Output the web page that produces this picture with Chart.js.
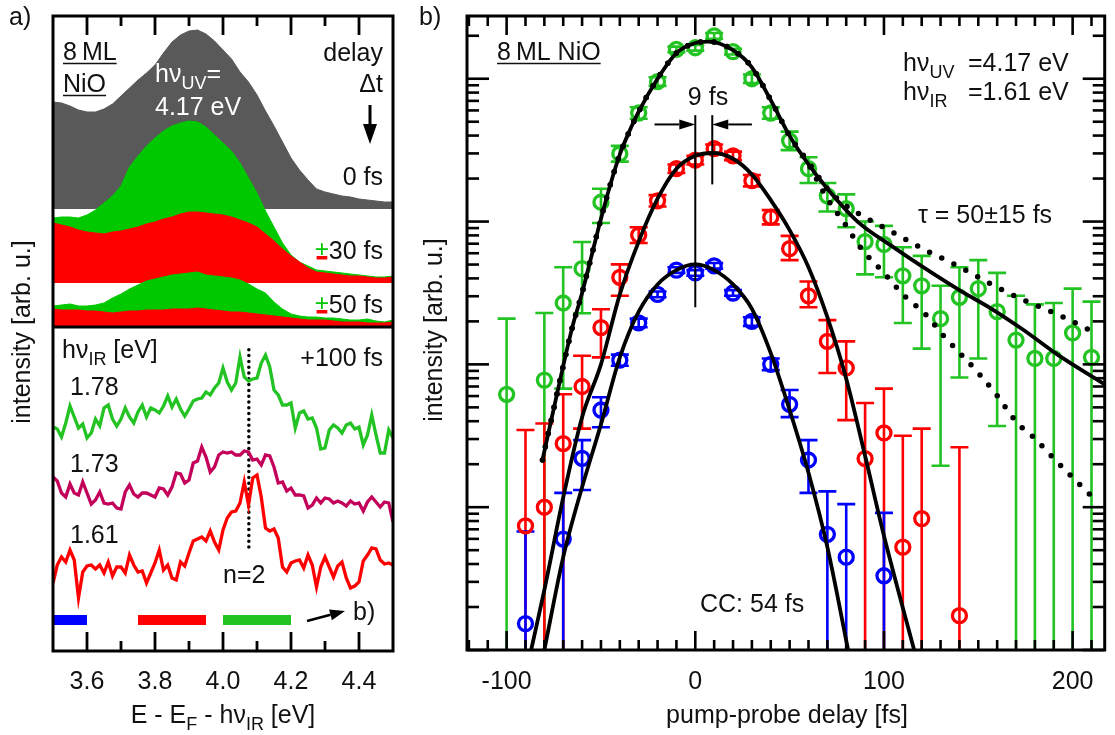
<!DOCTYPE html>
<html>
<head>
<meta charset="utf-8">
<script src="https://cdn.jsdelivr.net/npm/chart.js@4.4.1/dist/chart.umd.min.js"></script>
<style>
  html, body { margin: 0; padding: 0; background: #fff; }
  #wrap { position: relative; width: 1115px; height: 735px; }
  canvas { position: absolute; left: 0; top: 0; }
</style>
</head>
<body>
<div id="wrap">
  <canvas id="chartA" width="1115" height="735"></canvas>
  <canvas id="chartB" width="1115" height="735"></canvas>
</div>
<script>
const FONT = '"Liberation Sans", Arial, Helvetica, sans-serif';
Chart.defaults.font.family = FONT;
Chart.defaults.font.size = 25;
Chart.defaults.color = '#111';

const GRAY = '#595959', GREEN_FILL = '#00c800', GREEN = '#22c322', RED = '#ff0000', BLUE = '#0000ff', MAGENTA = '#c3005a';

// ---------- panel a: spectra ----------
const energies = [3.5,3.525,3.55,3.575,3.6,3.625,3.65,3.675,3.7,3.725,3.75,3.775,3.8,3.825,3.85,3.875,3.9,3.925,3.95,3.975,
  4,4.025,4.05,4.075,4.1,4.125,4.15,4.175,4.2,4.225,4.25,4.275,4.3,4.325,4.35,4.375,4.4,4.425,4.45,4.475,4.5];

const spec0fs = [107,106,103,99,97,97,100,105,113,121,129,136,144,156,167,174,178,179,175,168,
  159,150,137,127,114,98,83,67,51,39,29,20,17,15,13,12,10,9,8,7,7];
const spec30plus = [65,66,66,65,68,73,80,87,97,116,127,137,145,152,157,160,162,161,156,148,
  140,132,120,105,90,72,56,40,28,21,17,13,12,11,10,9,8,7,6,6,7];
const spec30minus = [60,58,56,53,51,50,49,51,52,54,56,59,61,64,66,69,71,71,70,69,
  68,66,63,60,56,49,42,34,27,21,15,11,10,9,8,7,7,6,5,5,6];
const spec50plus = [21,22,23,21,21,22,24,29,33,38,42,46,48,50,52,53,54,55,52,51,
  50,49,47,43,38,34,25,18,13,11,10,10,9,9,8,7,7,8,6,5,7];
const spec50minus = [18,17,17,17,16,16,15,14,15,16,16,17,17,17,18,18,18,19,18,17,
  16,15,15,14,13,12,11,10,9,8,7,7,7,6,5,5,5,4,4,4,5];

const energiesFine = [3.5,3.5125,3.525,3.5375,3.55,3.5625,3.575,3.5875,3.6,3.6125,3.625,3.6375,3.65,3.6625,3.675,3.6875,
  3.7,3.7125,3.725,3.7375,3.75,3.7625,3.775,3.7875,3.8,3.8125,3.825,3.8375,3.85,3.8625,3.875,3.8875,
  3.9,3.9125,3.925,3.9375,3.95,3.9625,3.975,3.9875,4,4.0125,4.025,4.0375,4.05,4.0625,4.075,4.0875,
  4.1,4.1125,4.125,4.1375,4.15,4.1625,4.175,4.1875,4.2,4.2125,4.225,4.2375,4.25,4.2625,4.275,4.2875,
  4.3,4.3125,4.325,4.3375,4.35,4.3625,4.375,4.3875,4.4,4.4125,4.425,4.4375,4.45,4.4625,4.475,4.4875,4.5];

const ir178 = [43,41,33,47,64,53,42,46,32,37,51,44,62,65,51,44,51,62,53,47,58,65,53,62,60,57,64,74,63,71,
  61,54,61,69,71,72,78,75,82,87,102,88,80,87,113,93,89,91,92,107,115,103,80,75,65,65,67,42,57,59,
  51,52,42,21,22,40,45,42,37,45,47,41,43,25,35,55,35,17,17,40,32];
const ir173 = [63,59,47,43,56,47,45,58,47,36,40,48,37,36,37,32,31,48,55,46,43,47,47,45,43,52,51,45,53,67,
  66,57,60,77,79,93,83,68,73,85,88,87,88,85,85,89,88,80,81,75,85,84,73,57,58,49,52,45,45,44,
  32,35,42,37,42,41,37,39,37,34,39,36,37,29,38,43,38,33,38,37,18];
const ir161 = [37,55,63,58,70,60,22,48,54,55,51,55,47,58,44,53,53,47,65,55,48,49,37,47,57,70,50,55,42,40,
  58,54,67,79,81,83,79,89,78,70,90,102,108,109,117,138,115,142,145,123,92,89,91,82,53,48,57,59,60,52,
  65,55,33,53,63,53,43,54,58,42,32,34,38,59,65,72,71,60,56,57,55];

// stacking offsets (arb. u.)
const base0fs = 442, base30 = 368, base50 = 324;
const off178 = 181, off173 = 111, off161 = 31;
const n2Energy = 4.076, n2Range = [104, 304];
const rangeLevel = 31;
const blueRange = [3.5, 3.6], redRange = [3.75, 3.95], greenRange = [4.0, 4.2];

const energyTicks = [3.6, 3.8, 4.0, 4.2, 4.4];
const energyMinor = [3.7, 3.9, 4.1, 4.3];

// ---------- panel b: delay scans ----------
const greenDelay = [-100,-80,-70,-60,-50,-40,-30,-20,-10,0,10,20,30,40,50,60,70,80,90,100,110,120,130,140,150,160,170,180,190,200,210];
const greenInt = [61.7,77.6,269,468,1365,2985,5754,9550,16032,16482,19953,15488,10000,5754,3673,2344,1514,1230,724,692,417,355,209,295,339,234,148,110,110,166,112];
const greenHi = [209,229,479,719,1698,3388,6310,10233,16788,17258,20893,16218,10715,6310,4266,2818,1862,1549,1000,933,661,575,355,479,537,437,302,263,269,339,275];
const greenLo = [0.1,0.1,67.6,228,977,2630,5248,8913,15311,15740,19055,14791,9333,5248,3162,1862,1175,912,427,407,195,129,19.5,81,110,37,0.1,0.1,0.1,0.1,0.1];

const redDelay = [-90,-80,-70,-60,-50,-40,-30,-20,-10,0,10,20,30,40,50,60,70,80,90,100,110,120,140];
const redInt = [7.41,10,27.9,70,181,407,804,1396,2344,2692,3236,2884,1932,1072,646,302,145,94.4,21.9,33.1,5.25,8.32,1.74];
const redHi = [34.7,38.5,61.7,115,243,501,912,1531,2512,2884,3467,3090,2118,1202,794,380,204,145,53.7,67.6,31.6,35.5,26.3];
const redLo = [0.1,0.1,0.1,35.5,112,302,708,1274,2188,2512,3020,2692,1762,955,537,251,87,40.7,0.1,0.1,0.1,0.1,0.1];

const blueDelay = [-90,-70,-60,-50,-40,-30,-20,-10,0,10,20,30,40,50,60,70,80,100];
const blueInt = [1.53,5.98,22.0,47.9,107,195,309,457,437,490,316,200,100,52.5,21.4,6.46,4.47,3.31];
const blueHi = [6.76,12.6,29.5,58.9,117,209,324,479,457,513,331,214,110,66.1,29.5,12.9,10.5,9.12];
const blueLo = [0.1,0.1,13.2,36.3,97.7,182,295,437,417,468,302,186,91.2,42.7,12.6,0.1,0.1,0.1];

const greenFitT = [-81,-76,-70,-65,-60,-55,-50,-45,-40,-35,-30,-20,-10,0,7,20,30,40,50,60,70,86,104,122,140,157,174,192,217];
const greenFitV = [21.4,42.7,97.7,186,316,575,1047,1820,2951,4266,5888,10000,15136,17783,18197,15849,12023,7079,3981,2512,1698,1000,676,468,331,245,174,117,72.4];
const upperDotT = [-81,-76,-70,-65,-60,-55,-50,-45,-40,-35,-30,-20,-10,0,7,20,30,40,50,60,70,78,86,104,122,139,157,174,192,209];
const upperDotV = [21.4,42.7,97.7,186,316,575,1047,1820,2951,4266,5888,10000,15136,17783,18197,15849,12023,7079,3981,2600,1698,1349,1148,851,631,490,363,282,224,174];
const lowerDotT = [-81,-76,-70,-65,-60,-55,-50,-45,-40,-35,-30,-20,-10,0,7,20,30,40,50,60,70,79,88,100,110,122,131,141,150,160,170,180,190,199,209];
const lowerDotV = [21.4,42.7,97.7,186,316,575,1047,1820,2951,4266,5888,10000,15136,17783,18197,15849,12023,7079,3981,2512,1445,977,646,437,309,224,162,117,87.1,60.3,39.8,30.2,21.9,16.6,12.3];
const redFitT = [-87,-80,-70,-60,-50,-40,-30,-20,-10,0,9,20,30,40,50,60,70,80,90,100,116];
const redFitV = [1,2.63,11.7,42.7,100,309,724,1445,2344,2884,3020,2754,2138,1413,871,479,214,79.4,22.9,6.31,1];
const blueFitT = [-80,-70,-60,-50,-40,-30,-20,-10,0,10,20,30,40,50,60,70,81];
const blueFitV = [1,4.47,13.8,38.0,112,234,363,457,501,457,363,245,120,47.9,17.4,5.25,1];

const delayTicks = [-100, 0, 100, 200];
const delayMinor = [];
for (let t = -120; t <= 210; t += 10) if (!delayTicks.includes(t)) delayMinor.push(t);
const decades = [1, 10, 100, 1000, 10000];
const decadeMinor = [];
decades.forEach(d => { for (let m = 2; m <= 9; m++) if (m * d < 27500) decadeMinor.push(m * d); });

const pts = (xs, ys, off = 0) => xs.map((x, i) => ({ x, y: ys[i] + off }));

// ---------- helpers ----------
function rich(ctx, x, y, parts, align, size, color) {
  ctx.save();
  ctx.fillStyle = color || '#111';
  ctx.textBaseline = 'alphabetic';
  ctx.textAlign = 'left';
  const fnt = s => (s ? size * 0.72 : size) + 'px ' + FONT;
  const w = parts.map(([t, s]) => { ctx.font = fnt(s); return ctx.measureText(t).width; });
  const total = w.reduce((a, b) => a + b, 0);
  let cx = align === 'right' ? x - total : align === 'center' ? x - total / 2 : x;
  const start = cx;
  parts.forEach(([t, s], i) => {
    ctx.font = fnt(s);
    ctx.fillText(t, cx, y + (s ? size * 0.28 : 0));
    cx += w[i];
  });
  ctx.restore();
  return { left: start, right: cx };
}

function underline(ctx, x1, x2, y) {
  ctx.save();
  ctx.strokeStyle = '#111';
  ctx.lineWidth = 1.6;
  ctx.beginPath(); ctx.moveTo(x1, y); ctx.lineTo(x2, y); ctx.stroke();
  ctx.restore();
}

function arrow(ctx, x1, y1, x2, y2, head, half, width) {
  const a = Math.atan2(y2 - y1, x2 - x1);
  const bx = x2 - head * Math.cos(a), by = y2 - head * Math.sin(a);
  ctx.lineWidth = width;
  ctx.beginPath(); ctx.moveTo(x1, y1); ctx.lineTo(bx, by); ctx.stroke();
  ctx.beginPath();
  ctx.moveTo(x2, y2);
  ctx.lineTo(bx + half * Math.sin(a), by - half * Math.cos(a));
  ctx.lineTo(bx - half * Math.sin(a), by + half * Math.cos(a));
  ctx.closePath(); ctx.fill();
}

function pmLabel(ctx, rightX, baseY, rest) {
  ctx.save();
  ctx.font = '25px ' + FONT;
  ctx.textAlign = 'left';
  const wr = ctx.measureText(rest).width, wp = ctx.measureText('±').width;
  const px = rightX - wr - wp;
  ctx.fillStyle = '#111';
  ctx.fillText(rest, rightX - wr, baseY);
  ctx.save(); ctx.beginPath(); ctx.rect(px - 2, baseY - 30, wp + 4, 27); ctx.clip();
  ctx.fillStyle = GREEN_FILL; ctx.fillText('±', px, baseY); ctx.restore();
  ctx.fillStyle = RED;
  ctx.fillRect(px + 1.5, baseY - 3, wp - 3, 3.5);
  ctx.restore();
}

function rotated(ctx, text, x, y) {
  ctx.save();
  ctx.translate(x, y);
  ctx.rotate(-Math.PI / 2);
  ctx.font = '25px ' + FONT;
  ctx.fillStyle = '#111';
  ctx.textAlign = 'center';
  ctx.textBaseline = 'alphabetic';
  ctx.fillText(text, 0, 0);
  ctx.restore();
}

// inward ticks on all four sides + frame
const frame = {
  id: 'frame',
  afterDraw(chart, args, o) {
    const { ctx, chartArea: a, scales: { x, y } } = chart;
    ctx.save();
    ctx.strokeStyle = '#000';
    ctx.lineWidth = o.tickWidth;
    const seg = (x1, y1, x2, y2) => { ctx.beginPath(); ctx.moveTo(x1, y1); ctx.lineTo(x2, y2); ctx.stroke(); };
    const xt = (vals, len) => vals.forEach(v => {
      const p = x.getPixelForValue(v);
      seg(p, a.bottom, p, a.bottom - len); seg(p, a.top, p, a.top + len);
    });
    const yt = (vals, len) => vals.forEach(v => {
      const p = y.getPixelForValue(v);
      seg(a.left, p, a.left + len, p); seg(a.right, p, a.right - len, p);
    });
    xt(o.xMajor, o.xMajorLen); xt(o.xMinor, o.xMinorLen);
    yt(o.yMajor, o.yMajorLen); yt(o.yMinor, o.yMinorLen);
    ctx.lineWidth = o.frameWidth;
    ctx.strokeRect(a.left, a.top, a.width, a.height);
    ctx.restore();
  }
};

// ---------- panel a ----------
const fillSet = (data, base, color, order) => ({
  data: pts(energies, data, base), fill: { value: base }, backgroundColor: color,
  borderColor: color, borderWidth: 1, pointRadius: 0, tension: 0, order
});
const traceSet = (data, off, color) => ({
  data: pts(energiesFine, data, off), borderColor: color, borderWidth: 3.3,
  pointRadius: 0, tension: 0, fill: false, order: 0
});
const rangeSet = (range, color) => ({
  data: range.map(x => ({ x, y: rangeLevel })), borderColor: color, borderWidth: 10,
  borderCapStyle: 'butt', pointRadius: 0, fill: false, order: 0
});

const annotateA = {
  id: 'annotateA',
  afterDatasetsDraw(chart) {
    const { ctx, chartArea: a, scales: { y } } = chart;
    ctx.save();
    // separator between the two sub panels
    ctx.strokeStyle = '#000'; ctx.lineWidth = 3;
    const sy = y.getPixelForValue(base50);
    ctx.beginPath(); ctx.moveTo(a.left, sy); ctx.lineTo(a.right, sy); ctx.stroke();

    ctx.font = '25px ' + FONT; ctx.fillStyle = '#111'; ctx.textAlign = 'left';
    ctx.fillText('a)', 9, 25);
    let r = rich(ctx, 63, 60, [['8\u2009ML']], 'left', 25);
    underline(ctx, r.left, r.right, 63.5);
    r = rich(ctx, 63, 92, [['NiO']], 'left', 25);
    underline(ctx, r.left, r.right, 95.5);
    rich(ctx, 155, 82, [['h\u03bd'], ['UV', 1], ['=']], 'left', 25, '#fff');
    rich(ctx, 155, 115, [['4.17 eV']], 'left', 25, '#fff');
    rich(ctx, 383, 61, [['delay']], 'right', 25);
    rich(ctx, 383, 92, [['\u0394t']], 'right', 25);
    ctx.strokeStyle = '#000'; ctx.fillStyle = '#000';
    arrow(ctx, 370, 105, 370, 144, 20, 7, 3);
    rich(ctx, 383, 185, [['0 fs']], 'right', 25);
    pmLabel(ctx, 383, 259, '30 fs');
    pmLabel(ctx, 383, 313, '50 fs');

    rich(ctx, 62, 358, [['h\u03bd'], ['IR', 1], [' [eV]']], 'left', 25);
    rich(ctx, 383, 366, [['+100 fs']], 'right', 25);
    rich(ctx, 70, 395, [['1.78']], 'left', 25);
    rich(ctx, 70, 472, [['1.73']], 'left', 25);
    rich(ctx, 70, 543, [['1.61']], 'left', 25);
    rich(ctx, 223, 583, [['n=2']], 'left', 25);
    ctx.strokeStyle = '#000'; ctx.fillStyle = '#000';
    arrow(ctx, 307, 621, 345, 611, 15, 5.5, 2.5);
    rich(ctx, 353, 620, [['b)']], 'left', 25);

    rich(ctx, 223, 723, [['E - E'], ['F', 1], [' - h\u03bd'], ['IR', 1], [' [eV]']], 'center', 25);
    rotated(ctx, 'intensity [arb. u.]', 30, 332);
    ctx.restore();
  }
};

new Chart(document.getElementById('chartA'), {
  type: 'line',
  data: {
    datasets: [
      fillSet(spec0fs, base0fs, GRAY, 6),
      fillSet(spec30plus, base30, GREEN_FILL, 5),
      fillSet(spec30minus, base30, RED, 4),
      fillSet(spec50plus, base50, GREEN_FILL, 3),
      fillSet(spec50minus, base50, RED, 2),
      traceSet(ir178, off178, GREEN),
      traceSet(ir173, off173, MAGENTA),
      traceSet(ir161, off161, RED),
      rangeSet(blueRange, BLUE),
      rangeSet(redRange, RED),
      rangeSet(greenRange, GREEN),
      {
        data: n2Range.map(y => ({ x: n2Energy, y })), borderColor: '#000', borderWidth: 3.5,
        borderDash: [0, 5.8], borderCapStyle: 'round', pointRadius: 0, fill: false, order: 0
      }
    ]
  },
  options: {
    responsive: false, animation: false, events: [], devicePixelRatio: 1,
    layout: { padding: { left: 53, right: 722, top: 16, bottom: 0 } },
    plugins: {
      legend: { display: false }, tooltip: { enabled: false },
      frame: {
        xMajor: energyTicks, xMinor: energyMinor, yMajor: [], yMinor: [],
        xMajorLen: 19, xMinorLen: 10, yMajorLen: 0, yMinorLen: 0, tickWidth: 2.8, frameWidth: 3
      }
    },
    scales: {
      x: {
        type: 'linear', min: 3.5, max: 4.5, bounds: 'data',
        grid: { display: false, drawTicks: false }, border: { display: false },
        afterBuildTicks: s => { s.ticks = energyTicks.map(v => ({ value: v })); },
        afterFit: s => { s.height = 84; },
        ticks: { autoSkip: false, maxRotation: 0, padding: 16, color: '#111', callback: v => v.toFixed(1) }
      },
      y: { type: 'linear', display: false, min: 0, max: 635, bounds: 'data' }
    }
  },
  plugins: [annotateA, frame]
});

// ---------- panel b ----------
const scatterSet = (xs, ys, hi, lo, color) => ({
  data: pts(xs, ys), errHigh: hi, errLow: lo, showLine: false, borderColor: color,
  pointBorderColor: color, pointBackgroundColor: 'rgba(0,0,0,0)', pointRadius: 7,
  pointBorderWidth: 3.3, order: 2
});
const curveSet = (xs, ys, dotted) => ({
  data: pts(xs, ys), borderColor: '#000', borderWidth: dotted ? 5.5 : 3.8,
  borderDash: dotted ? [0, 13.5] : [], borderCapStyle: dotted ? 'round' : 'butt',
  pointRadius: 0, fill: false, cubicInterpolationMode: 'monotone', order: 0
});

const errorBars = {
  id: 'errorBars',
  beforeDatasetsDraw(chart) {
    const { ctx, chartArea: a, scales: { x, y } } = chart;
    ctx.save();
    ctx.beginPath(); ctx.rect(a.left, a.top, a.width, a.height); ctx.clip();
    chart.data.datasets.forEach(ds => {
      if (!ds.errLow) return;
      ctx.strokeStyle = ds.borderColor;
      ctx.lineWidth = 2.6;
      ds.data.forEach((p, i) => {
        const px = x.getPixelForValue(p.x);
        const top = y.getPixelForValue(ds.errHigh[i]);
        const bot = y.getPixelForValue(ds.errLow[i]);
        ctx.beginPath(); ctx.moveTo(px, top); ctx.lineTo(px, bot); ctx.stroke();
        [top, bot].forEach(py => {
          if (py < a.bottom - 1) { ctx.beginPath(); ctx.moveTo(px - 9, py); ctx.lineTo(px + 9, py); ctx.stroke(); }
        });
      });
    });
    ctx.restore();
  }
};

const annotateB = {
  id: 'annotateB',
  afterDatasetsDraw(chart) {
    const { ctx, scales: { x, y } } = chart;
    ctx.save();
    ctx.strokeStyle = '#000'; ctx.fillStyle = '#000'; ctx.lineWidth = 2;
    // 9 fs shift marker
    const x0 = x.getPixelForValue(0), x9 = x.getPixelForValue(9);
    const yTop = y.getPixelForValue(5559);
    ctx.beginPath(); ctx.moveTo(x0, yTop); ctx.lineTo(x0, y.getPixelForValue(251)); ctx.stroke();
    ctx.beginPath(); ctx.moveTo(x9, yTop); ctx.lineTo(x9, y.getPixelForValue(1820)); ctx.stroke();
    const ya = y.getPixelForValue(4786);
    arrow(ctx, x.getPixelForValue(-21.6), ya, x0, ya, 16, 5, 2);
    arrow(ctx, x.getPixelForValue(30), ya, x9, ya, 16, 5, 2);
    rich(ctx, 708, 105, [['9 fs']], 'center', 25);

    ctx.font = '25px ' + FONT; ctx.fillStyle = '#111'; ctx.textAlign = 'left';
    ctx.fillText('b)', 419, 25);
    const r = rich(ctx, 497, 60, [['8\u2009ML NiO']], 'left', 25);
    underline(ctx, r.left, r.right, 63.5);
    rich(ctx, 903, 71, [['h\u03bd'], ['UV', 1]], 'left', 25);
    rich(ctx, 968, 71, [['=4.17 eV']], 'left', 25);
    rich(ctx, 903, 100, [['h\u03bd'], ['IR', 1]], 'left', 25);
    rich(ctx, 968, 100, [['=1.61 eV']], 'left', 25);
    rich(ctx, 918, 223, [['\u03c4 = 50\u00b115 fs']], 'left', 25);
    rich(ctx, 700, 612, [['CC: 54 fs']], 'left', 25);
    rich(ctx, 787, 723, [['pump-probe delay [fs]']], 'center', 25);
    rotated(ctx, 'intensity [arb. u.]', 442, 330);
    ctx.restore();
  }
};

new Chart(document.getElementById('chartB'), {
  type: 'line',
  data: {
    datasets: [
      curveSet(greenFitT, greenFitV, false),
      curveSet(upperDotT, upperDotV, true),
      curveSet(lowerDotT, lowerDotV, true),
      curveSet(redFitT, redFitV, false),
      curveSet(blueFitT, blueFitV, false),
      scatterSet(greenDelay, greenInt, greenHi, greenLo, GREEN),
      scatterSet(redDelay, redInt, redHi, redLo, RED),
      scatterSet(blueDelay, blueInt, blueHi, blueLo, BLUE)
    ]
  },
  options: {
    responsive: false, animation: false, events: [], devicePixelRatio: 1,
    layout: { padding: { left: 467, right: 8, top: 16, bottom: 0 } },
    plugins: {
      legend: { display: false }, tooltip: { enabled: false },
      frame: {
        xMajor: delayTicks, xMinor: delayMinor, yMajor: decades, yMinor: decadeMinor,
        xMajorLen: 19, xMinorLen: 10, yMajorLen: 22, yMinorLen: 12, tickWidth: 2.6, frameWidth: 3
      }
    },
    scales: {
      x: {
        type: 'linear', min: -121, max: 217, bounds: 'data',
        grid: { display: false, drawTicks: false }, border: { display: false },
        afterBuildTicks: s => { s.ticks = delayTicks.map(v => ({ value: v })); },
        afterFit: s => { s.height = 85; },
        ticks: { autoSkip: false, maxRotation: 0, padding: 17, color: '#111', callback: v => String(v) }
      },
      y: { type: 'logarithmic', display: false, min: 1, max: 27500, bounds: 'data' }
    }
  },
  plugins: [errorBars, annotateB, frame]
});
</script>
</body>
</html>
